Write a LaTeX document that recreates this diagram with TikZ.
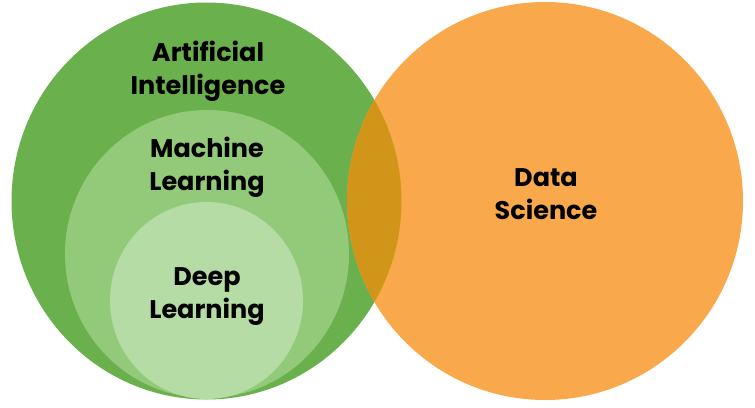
\documentclass[tikz,border=0pt]{standalone}
\usepackage{fontspec}
\setmainfont{Poppins}
\usetikzlibrary{positioning}
\definecolor{aigreen}{HTML}{6AB04C}
\definecolor{mlgreen}{HTML}{93CA7A}
\definecolor{dlgreen}{HTML}{B4DCA4}
\definecolor{dsorange}{HTML}{F9A94B}
\definecolor{overlap}{HTML}{D1951A}

\begin{document}
\begin{tikzpicture}[
    x=1pt, y=-1pt,
    tag/.style={align=center, font=\fontsize{25.5}{33}\selectfont\bfseries, text=black, inner sep=0pt}
]
\useasboundingbox (0,0) rectangle (755,407);

% Circles
\fill[aigreen] (206.5,201) ellipse [x radius=195, y radius=198.5];
\fill[mlgreen] (207,254) ellipse [x radius=142, y radius=144];
\fill[dlgreen] (206.5,300.5) ellipse [x radius=96.5, y radius=98.5];
\fill[dsorange] (545,201) ellipse [x radius=198, y radius=199];
\begin{scope}
  \clip (545,201) ellipse [x radius=198, y radius=199];
  \fill[overlap] (206.5,201) ellipse [x radius=195, y radius=198.5];
\end{scope}

% Labels
\node[tag] (ai) at (208,71) {Artificial\\Intelligence};
\node[tag] (ml) at (207,167.5) {Machine\\Learning};
\node[tag] (dl) at (207,297) {Deep\\Learning};
\node[tag] (ds) at (546,194.5) {Data\\Science};
\end{tikzpicture}
\end{document}
